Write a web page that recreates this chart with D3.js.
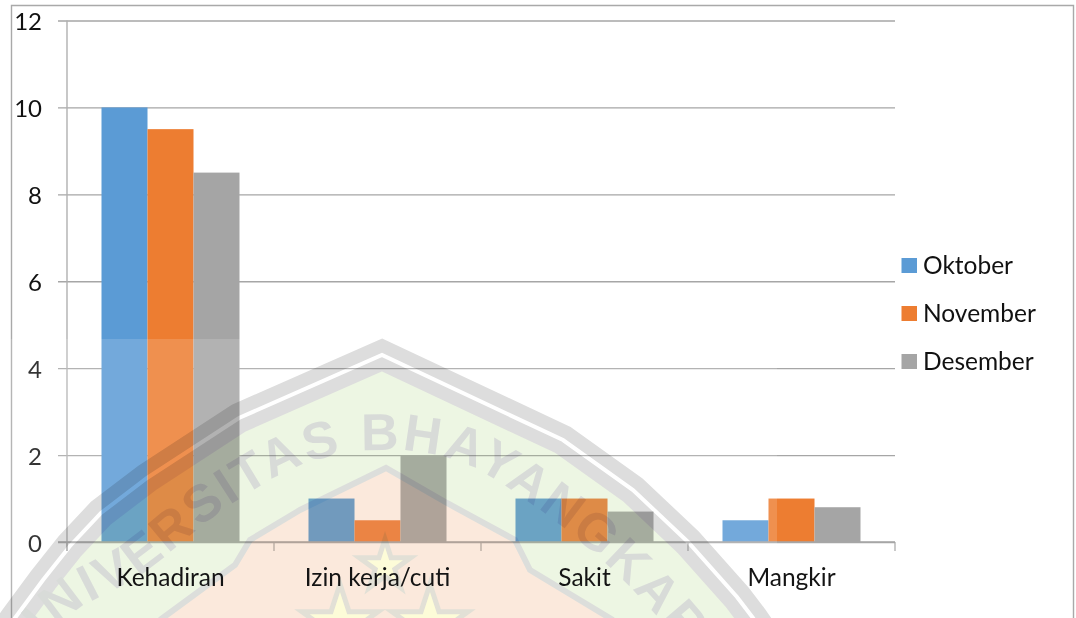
<!DOCTYPE html>
<html><head><meta charset="utf-8">
<script src="https://cdn.jsdelivr.net/npm/d3@7/dist/d3.min.js"></script>
<style>
html,body{margin:0;padding:0;background:#fff;overflow:hidden}
svg{display:block}
text{font-family:Lato,"Open Sans",sans-serif}
</style></head><body>
<script>
const categories = ["Kehadiran","Izin kerja/cuti","Sakit","Mangkir"];
const seriesNames = ["Oktober","November","Desember"];
const oktober = [10,1,1,0.5];
const november = [9.5,0.5,1,1];
const desember = [8.5,2,0.7,0.8];
const seriesValues = [oktober,november,desember];
const colors = ["#5b9bd5","#ed7d31","#a5a5a5"];
const yTicks = [0,2,4,6,8,10,12];
const fontSize = 24.5;
const W=1076,H=618;
const svg=d3.select("body").append("svg").attr("width",W).attr("height",H);

const x0=d3.scaleBand().domain(categories).range([67,895]);
const x1=d3.scaleBand().domain(seriesNames).range([0,x0.bandwidth()]).paddingInner(0).paddingOuter(0.75);
const y=d3.scaleLinear().domain([0,12]).range([542,20.5]);

// chart frame
svg.append("path").attr("d","M11.5,618V5.5H1073.5V618").attr("fill","none").attr("stroke","#a9a9a9").attr("stroke-width",1.4);

// gridlines + value labels
const gy=svg.append("g").attr("transform","translate(895,0)")
  .call(d3.axisLeft(y).tickValues(yTicks).tickSize(837).tickPadding(16));
gy.select(".domain").remove();
gy.selectAll("line").attr("stroke","#a6a6a6").attr("stroke-width",1.3);
gy.selectAll("text").attr("font-size",24).attr("fill","#111").attr("dy","0.38em");

// vertical axis line
svg.append("line").attr("x1",67).attr("x2",67).attr("y1",y(12)).attr("y2",551).attr("stroke","#b0b0b0").attr("stroke-width",1.4);

// bars
seriesNames.forEach((s,i)=>{
  svg.append("g").selectAll("rect").data(seriesValues[i]).join("rect")
    .attr("x",(d,j)=>x0(categories[j])+x1(s))
    .attr("width",x1.bandwidth())
    .attr("y",d=>y(d))
    .attr("height",d=>y(0)-y(d))
    .attr("fill",colors[i]);
});

// baseline with boundary ticks
svg.append("line").attr("x1",58).attr("x2",895).attr("y1",y(0)).attr("y2",y(0)).attr("stroke","#a6a6a6").attr("stroke-width",1.4);
svg.append("g").selectAll("line").data(categories.concat(["end"])).join("line")
  .attr("x1",(d,i)=>67+i*x0.step()).attr("x2",(d,i)=>67+i*x0.step())
  .attr("y1",y(0)).attr("y2",551).attr("stroke","#a6a6a6").attr("stroke-width",1.2);

// scanned watermark: translucent white sheet, then multiplied artwork
svg.append("rect").attr("x",0).attr("y",339).attr("width",777).attr("height",H-339).attr("fill","#fff").attr("opacity",0.15);
const wm=svg.append("g").style("mix-blend-mode","multiply");
const poly=d3.line();
const curve=d3.line().curve(d3.curveCatmullRom.alpha(0.5));
const arch=[[-15,660],[15,618],[43,580],[70,546],[101,513],[147,478],[239,418],[382,355],[563,440],[633,490],[688,542],[737,597],[753,618],[775,650]];
const inner=[[160,620],[235,565],[250,540],[300,510],[386,468],[447,503],[515,540],[530,570],[613,620]];
wm.append("path").attr("d",poly(arch)+"Z").attr("fill","#edf6e3");
wm.append("path").attr("d",poly(arch)).attr("fill","none").attr("stroke","#dddddd").attr("stroke-width",30).attr("stroke-miterlimit",20);
wm.append("path").attr("d",poly(arch)).attr("fill","none").attr("stroke","#ffffff").attr("stroke-width",4).attr("stroke-miterlimit",20);
wm.append("path").attr("d",poly(inner)+"Z").attr("fill","#fbe9dc").attr("stroke","none");
wm.append("path").attr("d",poly(inner)).attr("fill","none").attr("stroke","#dcdedb").attr("stroke-width",6).attr("stroke-miterlimit",20);
[[340,624,40],[430,624,40],[385,566,27]].forEach(([cx,cy,r])=>{
  wm.append("path").attr("transform",`translate(${cx},${cy})`)
    .attr("d",d3.symbol(d3.symbolStar,r*r/0.89)())
    .attr("fill","#fdfcd8").attr("stroke","#e2e0d6").attr("stroke-width",5);
});
const defs=svg.append("defs");
defs.append("path").attr("id","wmArc").attr("d",curve([[20,670],[70,615],[140,575],[230,505],[310,462],[385,450],[460,462],[540,510],[620,577],[690,655],[720,695]]));
wm.append("text").attr("font-size",52).attr("font-weight",700).attr("letter-spacing",3)
  .style("font-family","'Liberation Sans',sans-serif").attr("fill","#d8dbd8")
  .append("textPath").attr("href","#wmArc").attr("startOffset","50%").attr("text-anchor","middle")
  .text("UNIVERSITAS BHAYANGKARA");

// category labels
const gx=svg.append("g").attr("transform",`translate(0,${y(0)})`).call(d3.axisBottom(x0).tickSize(0).tickPadding(26.5));
gx.select(".domain").remove();
gx.selectAll("text").attr("font-size",fontSize).attr("fill","#141414");

// legend
const leg=svg.append("g").selectAll("g").data(seriesNames).join("g")
  .attr("transform",(d,i)=>`translate(901.5,${258+i*48})`);
leg.append("rect").attr("width",15.5).attr("height",15).attr("fill",(d,i)=>colors[i]);
leg.append("text").attr("x",21.5).attr("y",15.5).attr("font-size",fontSize).attr("fill","#111").text(d=>d);
</script>
</body></html>
